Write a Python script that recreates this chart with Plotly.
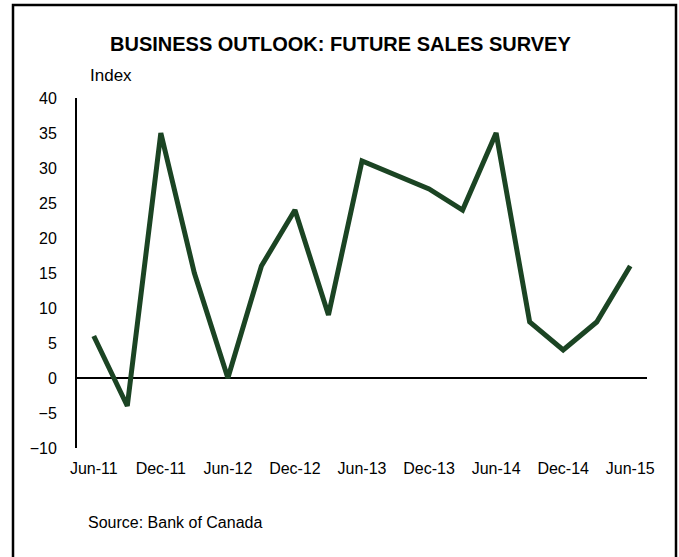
import plotly.graph_objects as go

quarters = ["Jun-11", "Sep-11", "Dec-11", "Mar-12", "Jun-12", "Sep-12", "Dec-12", "Mar-13",
            "Jun-13", "Sep-13", "Dec-13", "Mar-14", "Jun-14", "Sep-14", "Dec-14", "Mar-15", "Jun-15"]
values = [6, -4, 35, 15, 0, 16, 24, 9, 31, 29, 27, 24, 35, 8, 4, 8, 16]
tick_labels = ["Jun-11", "Dec-11", "Jun-12", "Dec-12", "Jun-13", "Dec-13", "Jun-14", "Dec-14", "Jun-15"]
y_ticks = [40, 35, 30, 25, 20, 15, 10, 5, 0, -5, -10]

idx = list(range(len(quarters)))
tick_idx = [quarters.index(t) for t in tick_labels]

FONT = "Liberation Sans, Arial, sans-serif"

fig = go.Figure()
fig.add_trace(go.Scatter(
    x=idx, y=values, mode="lines",
    line=dict(color="#1b4423", width=5),
    hoverinfo="skip", showlegend=False,
))

fig.update_layout(
    width=679, height=557,
    margin=dict(l=77, r=32, t=98, b=109, autoexpand=False),
    paper_bgcolor="white", plot_bgcolor="white",
    font=dict(family=FONT, size=16, color="black"),
    xaxis=dict(
        range=[-0.5, len(quarters) - 0.5],
        tickmode="array", tickvals=tick_idx, ticktext=tick_labels,
        showgrid=False, zeroline=False, showline=False,
        ticks="", ticklabelstandoff=9,
        tickfont=dict(family=FONT, size=16, color="black"),
        fixedrange=True, automargin=False,
    ),
    yaxis=dict(
        range=[-10, 40],
        tickmode="array", tickvals=y_ticks,
        showgrid=False,
        zeroline=True, zerolinecolor="black", zerolinewidth=2,
        showline=True, linecolor="black", linewidth=2,
        ticks="", ticklabelstandoff=15,
        tickfont=dict(family=FONT, size=16, color="black"),
        fixedrange=True, automargin=False,
    ),
    annotations=[
        dict(text="<b>BUSINESS OUTLOOK: FUTURE SALES SURVEY</b>", xref="paper", yref="paper",
             x=(340 - 77) / 570, y=(448 - 44) / 350, xanchor="center", yanchor="middle",
             showarrow=False, font=dict(family=FONT, size=20, color="black")),
        dict(text="Index", xref="paper", yref="paper",
             x=(88 - 77) / 570, y=(448 - 76) / 350, xanchor="left", yanchor="middle",
             showarrow=False, font=dict(family=FONT, size=17, color="black")),
        dict(text="Source: Bank of Canada", xref="paper", yref="paper",
             x=(86 - 77) / 570, y=(448 - 522) / 350, xanchor="left", yanchor="middle",
             showarrow=False, font=dict(family=FONT, size=16, color="black")),
    ],
    shapes=[
        dict(type="rect", xref="paper", yref="paper",
             x0=(13 - 77) / 570, x1=(676 - 77) / 570,
             y0=(448 - 580) / 350, y1=(448 - 5) / 350,
             line=dict(color="black", width=2.5), fillcolor="rgba(0,0,0,0)", layer="below"),
    ],
)

fig.write_html("out.html")
